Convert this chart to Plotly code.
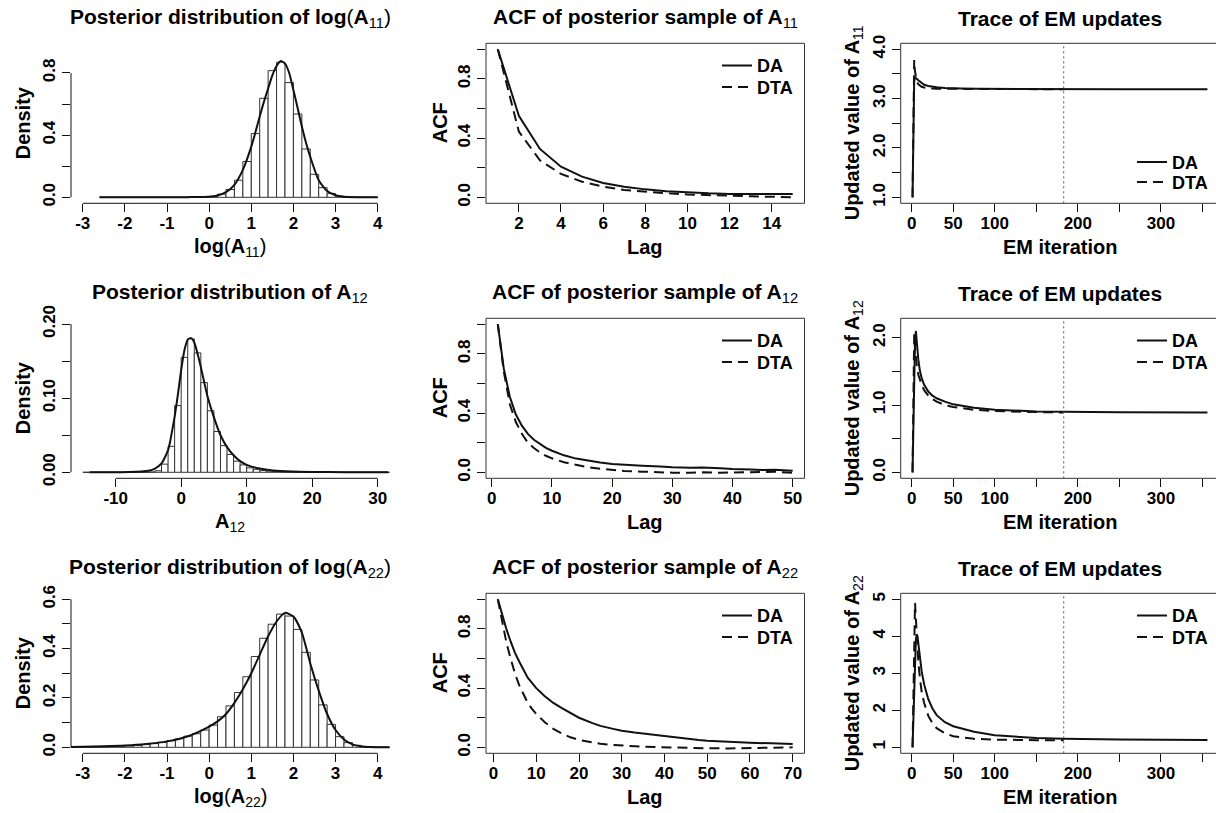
import plotly.graph_objects as go

W, H = 1216, 813
FONT = "Liberation Sans, Arial, Helvetica, sans-serif"

# ---------------- data ----------------
# Histogram of log(A11): bin left edges (width 0.2) and densities
h1_left = [-2.6, -2.4, -2.2, -2.0, -1.8, -1.6, -1.4, -1.2, -1.0, -0.8, -0.6, -0.4, -0.2,
           0.0, 0.2, 0.4, 0.6, 0.8, 1.0, 1.2, 1.4, 1.6, 1.8, 2.0, 2.2, 2.4, 2.6, 2.8,
           3.0, 3.2, 3.4, 3.6, 3.8]
h1_dens = [0, 0, 0, 0, 0, 0, 0, 0, 0, 0, 0, 0.001, 0.002,
           0.006, 0.02, 0.05, 0.11, 0.23, 0.41, 0.637, 0.815, 0.869, 0.738, 0.536, 0.311, 0.148,
           0.062, 0.025, 0.007, 0.002, 0.001, 0, 0]
d1_x = [-2.6, -1.0, -0.5, 0.0, 0.2, 0.4, 0.6, 0.8, 1.0, 1.1, 1.2, 1.3, 1.4, 1.5, 1.6, 1.7,
        1.8, 1.9, 2.0, 2.1, 2.2, 2.3, 2.4, 2.6, 2.8, 3.0, 3.2, 3.5, 4.0]
d1_y = [0, 0, 0.001, 0.004, 0.012, 0.033, 0.08, 0.176, 0.326, 0.42, 0.52, 0.615, 0.70, 0.785,
        0.845, 0.877, 0.86, 0.80, 0.69, 0.575, 0.455, 0.35, 0.26, 0.11, 0.04, 0.013, 0.004,
        0.001, 0]

# Histogram of A12: bin left edges (width 1) and densities
h2_left = list(range(-15, 32))
h2_dens = [0, 0, 0, 0, 0, 0, 0, 0, 0, 0, 0.0005, 0.002, 0.011, 0.035, 0.09,
           0.155, 0.18, 0.161, 0.121, 0.083, 0.055, 0.036, 0.024, 0.015, 0.010, 0.006,
           0.004, 0.0025, 0.0015, 0.001, 0.0006, 0.0004, 0.0002, 0.0001, 0, 0, 0, 0, 0,
           0, 0, 0, 0, 0, 0, 0, 0]
d2_x = [-14, -8, -5, -4, -3, -2, -1, -0.5, 0, 0.5, 1, 1.5, 2, 2.5, 3, 3.5, 4, 5, 6, 7, 8, 9,
        10, 12, 14, 17, 20, 25, 31.6]
d2_y = [0, 0.0003, 0.002, 0.005, 0.012, 0.03, 0.075, 0.105, 0.138, 0.165, 0.179, 0.181, 0.175,
        0.16, 0.142, 0.122, 0.103, 0.074, 0.05, 0.034, 0.023, 0.015, 0.010, 0.005, 0.0025,
        0.001, 0.0005, 0.0001, 0]

# Histogram of log(A22): bin left edges (width 0.2) and densities
h3_left = [-3.4, -3.2, -3.0, -2.8, -2.6, -2.4, -2.2, -2.0, -1.8, -1.6, -1.4, -1.2, -1.0, -0.8,
           -0.6, -0.4, -0.2, 0.0, 0.2, 0.4, 0.6, 0.8, 1.0, 1.2, 1.4, 1.6, 1.8, 2.0, 2.2, 2.4,
           2.6, 2.8, 3.0, 3.2, 3.4, 3.6, 3.8, 4.0, 4.2]
h3_dens = [0.0005, 0.0007, 0.001, 0.0015, 0.002, 0.003, 0.004, 0.006, 0.008, 0.011, 0.015,
           0.02, 0.027, 0.035, 0.045, 0.055, 0.07, 0.09, 0.124, 0.168, 0.222, 0.286, 0.368,
           0.442, 0.499, 0.54, 0.532, 0.478, 0.385, 0.273, 0.172, 0.093, 0.043, 0.019, 0.008,
           0.003, 0.001, 0.0003, 0.0001]
d3_x = [-3.3, -3.0, -2.5, -2.0, -1.5, -1.0, -0.5, 0.0, 0.2, 0.4, 0.6, 0.8, 1.0, 1.2, 1.4, 1.6,
        1.8, 2.0, 2.2, 2.4, 2.6, 2.8, 3.0, 3.2, 3.4, 3.6, 3.8, 4.3]
d3_y = [0.001, 0.002, 0.004, 0.007, 0.013, 0.024, 0.045, 0.084, 0.105, 0.135, 0.18, 0.235,
        0.30, 0.375, 0.45, 0.51, 0.545, 0.53, 0.465, 0.34, 0.23, 0.135, 0.07, 0.032, 0.012,
        0.004, 0.001, 0]

# ACF of posterior samples
acf1_lag = list(range(1, 16))
acf1_da = [1.0, 0.55, 0.327, 0.207, 0.14, 0.097, 0.072, 0.054, 0.042, 0.033, 0.027, 0.023,
           0.022, 0.022, 0.022]
acf1_dta = [1.0, 0.444, 0.25, 0.158, 0.106, 0.072, 0.05, 0.038, 0.028, 0.02, 0.014, 0.01,
            0.007, 0.004, 0.0]

acf2_lag = [1, 2, 3, 4, 5, 6, 7, 8, 9, 10, 12, 14, 16, 18, 20, 22, 25, 28, 30, 33, 35, 38,
            40, 43, 45, 47, 50]
acf2_da = [1.0, 0.70, 0.51, 0.39, 0.315, 0.26, 0.22, 0.19, 0.165, 0.146, 0.115, 0.093, 0.077,
           0.066, 0.056, 0.05, 0.045, 0.04, 0.034, 0.031, 0.033, 0.028, 0.022, 0.02, 0.016,
           0.018, 0.011]
acf2_dta = [1.0, 0.68, 0.46, 0.34, 0.26, 0.2, 0.165, 0.135, 0.112, 0.095, 0.068, 0.05, 0.035,
            0.025, 0.016, 0.01, 0.005, 0.0, -0.002, -0.003, 0.0, -0.002, 0.0, 0.003, 0.005,
            0.004, -0.002]

acf3_lag = [1, 2, 3, 4, 5, 6, 7, 8, 9, 10, 12, 14, 16, 18, 20, 23, 25, 28, 30, 33, 35, 38,
            40, 43, 45, 48, 50, 55, 60, 65, 70]
acf3_da = [1.0, 0.89, 0.80, 0.715, 0.64, 0.58, 0.52, 0.47, 0.435, 0.40, 0.345, 0.30, 0.265,
           0.23, 0.2, 0.165, 0.145, 0.125, 0.112, 0.1, 0.092, 0.083, 0.077, 0.066, 0.058,
           0.05, 0.045, 0.036, 0.031, 0.027, 0.022]
acf3_dta = [1.0, 0.85, 0.71, 0.6, 0.5, 0.42, 0.355, 0.3, 0.26, 0.225, 0.17, 0.125, 0.093,
            0.068, 0.05, 0.032, 0.025, 0.016, 0.012, 0.008, 0.005, 0.002, 0.0, -0.002,
            -0.004, -0.005, -0.006, -0.007, -0.006, -0.002, 0.0]

# Traces of EM updates
DTA_STOP = 183
em11_da_it = [1, 2, 3, 4, 5, 6, 8, 10, 12, 15, 20, 25, 30, 40, 50, 60, 80, 100, 150, 183, 250, 356]
em11_da = [1.0, 2.3, 3.35, 3.43, 3.42, 3.40, 3.37, 3.34, 3.31, 3.28, 3.255, 3.24, 3.23, 3.215,
           3.207, 3.203, 3.198, 3.196, 3.194, 3.193, 3.192, 3.192]
em11_dta_it = [1, 2, 3, 4, 5, 6, 8, 10, 12, 15, 20, 25, 30, 40, 50, 60, 80, 100, 150, 183]
em11_dta = [1.0, 3.5, 3.78, 3.55, 3.42, 3.35, 3.29, 3.26, 3.24, 3.225, 3.21, 3.203, 3.2,
            3.197, 3.195, 3.194, 3.193, 3.193, 3.192, 3.192]

em12_da_it = [1, 2, 3, 4, 5, 6, 7, 8, 10, 12, 15, 20, 25, 30, 40, 50, 75, 100, 150, 183, 250, 356]
em12_da = [0.0, 0.8, 1.5, 1.95, 2.1, 1.95, 1.8, 1.67, 1.5, 1.4, 1.3, 1.2, 1.14, 1.1, 1.05,
           1.01, 0.96, 0.93, 0.905, 0.898, 0.892, 0.89]
em12_dta_it = [1, 2, 3, 4, 5, 6, 8, 10, 12, 15, 20, 25, 30, 40, 50, 75, 100, 150, 183]
em12_dta = [0.0, 1.3, 2.05, 1.85, 1.7, 1.6, 1.45, 1.36, 1.3, 1.22, 1.14, 1.09, 1.05, 1.0,
            0.97, 0.93, 0.91, 0.895, 0.89]

em22_da_it = [1, 2, 3, 4, 5, 6, 7, 8, 10, 12, 15, 20, 25, 30, 40, 50, 75, 100, 150, 183, 250, 356]
em22_da = [1.0, 1.8, 2.8, 3.5, 3.9, 4.05, 4.0, 3.8, 3.4, 3.05, 2.7, 2.3, 2.05, 1.87, 1.68,
           1.57, 1.42, 1.33, 1.25, 1.23, 1.21, 1.2]
em22_dta_it = [1, 2, 3, 4, 5, 6, 7, 8, 10, 12, 15, 20, 25, 30, 40, 50, 75, 100, 150, 183]
em22_dta = [1.0, 2.5, 4.2, 4.9, 4.5, 4.0, 3.6, 3.3, 2.85, 2.5, 2.2, 1.85, 1.65, 1.52, 1.38,
            1.3, 1.23, 1.21, 1.195, 1.19]

# tick values: labelled (major) and unlabelled (minor) ticks
hist_x_ticks = [-3, -2, -1, 0, 1, 2, 3, 4]
a12_x_ticks = [-10, 0, 10, 20, 30]
acf_y_major = [0.0, 0.4, 0.8]
acf_y_text = ["0.0", "0.4", "0.8"]
acf_y_minor = [0.2, 0.6, 1.0]
em_x_major = [0, 50, 100, 200, 300]
em_x_minor = [150, 250, 350]


# ---------------- helpers ----------------
def logA(sub):
    return ('log<span style="font-weight:normal">(</span>A<sub><span style="font-weight:normal">'
            + sub + '</span></sub><span style="font-weight:normal">)</span>')


def Asub(sub):
    return 'A<sub><span style="font-weight:normal">' + sub + '</span></sub>'


COL_X = [(71.0, 389.5), (486.0, 804.5), (900.7, 1216.0)]
COL3_RIGHT = 1219.2
ROW_Y = [(43.3, 203.3), (318.3, 478.3), (593.3, 753.3)]
YTITLE_X = [23, 440, 853]
LEG_X = {1: 717, 2: 1132}

TICKFONT = dict(family=FONT, size=17, color="black", weight="bold")
TITLEFONT = dict(family=FONT, size=21, color="black", weight="bold")
LABFONT = dict(family=FONT, size=20, color="black", weight="bold")
LEGFONT = dict(family=FONT, size=18, color="black", weight="bold")
BLACK = "#111111"
DASH = "10px,6px"

panels = [
    # row 0
    dict(kind="hist", left=h1_left, dens=h1_dens, width=0.2, dx=d1_x, dy=d1_y,
         xr=[-3.278, 4.28], yr=[-0.0386, 0.991],
         xt=hist_x_ticks, xtt=[str(v) for v in hist_x_ticks], xm=[],
         yt=[0, 0.4, 0.8], ytt=["0.0", "0.4", "0.8"], ym=[0.2, 0.6],
         title="Posterior distribution of " + logA("11"), xlab=logA("11"), ylab="Density"),
    dict(kind="acf", lag=acf1_lag, da=acf1_da, dta=acf1_dta, xr=[0.44, 15.56], yr=[-0.04, 1.04],
         xt=[2, 4, 6, 8, 10, 12, 14], xtt=["2", "4", "6", "8", "10", "12", "14"], xm=[],
         yt=acf_y_major, ytt=acf_y_text, ym=acf_y_minor,
         title="ACF of posterior sample of " + Asub("11"), xlab="Lag", ylab="ACF", leg_top=True),
    dict(kind="em", da_it=em11_da_it, da=em11_da, dta_it=em11_dta_it, dta=em11_dta,
         xr=[-13.24, 366.3], yr=[0.88, 4.12],
         xt=em_x_major, xtt=[str(v) for v in em_x_major], xm=em_x_minor,
         yt=[1.0, 2.0, 3.0, 4.0], ytt=["1.0", "2.0", "3.0", "4.0"], ym=[1.5, 2.5, 3.5],
         title="Trace of EM updates", xlab="EM iteration",
         ylab="Updated value of " + Asub("11"), leg_top=False),
    # row 1
    dict(kind="hist", left=h2_left, dens=h2_dens, width=1.0, dx=d2_x, dy=d2_y,
         xr=[-16.82, 31.8], yr=[-0.0081, 0.2077],
         xt=a12_x_ticks, xtt=[str(v) for v in a12_x_ticks], xm=[],
         yt=[0, 0.10, 0.20], ytt=["0.00", "0.10", "0.20"], ym=[0.05, 0.15],
         title="Posterior distribution of " + Asub("12"), xlab=Asub("12"), ylab="Density"),
    dict(kind="acf", lag=acf2_lag, da=acf2_da, dta=acf2_dta, xr=[-0.96, 51.96], yr=[-0.04, 1.04],
         xt=[0, 10, 20, 30, 40, 50], xtt=["0", "10", "20", "30", "40", "50"], xm=[],
         yt=acf_y_major, ytt=acf_y_text, ym=acf_y_minor,
         title="ACF of posterior sample of " + Asub("12"), xlab="Lag", ylab="ACF", leg_top=True),
    dict(kind="em", da_it=em12_da_it, da=em12_da, dta_it=em12_dta_it, dta=em12_dta,
         xr=[-13.24, 366.3], yr=[-0.088, 2.288],
         xt=em_x_major, xtt=[str(v) for v in em_x_major], xm=em_x_minor,
         yt=[0.0, 1.0, 2.0], ytt=["0.0", "1.0", "2.0"], ym=[0.5, 1.5],
         title="Trace of EM updates", xlab="EM iteration",
         ylab="Updated value of " + Asub("12"), leg_top=True),
    # row 2
    dict(kind="hist", left=h3_left, dens=h3_dens, width=0.2, dx=d3_x, dy=d3_y,
         xr=[-3.278, 4.28], yr=[-0.0243, 0.6243],
         xt=hist_x_ticks, xtt=[str(v) for v in hist_x_ticks], xm=[],
         yt=[0, 0.2, 0.4, 0.6], ytt=["0.0", "0.2", "0.4", "0.6"], ym=[0.1, 0.3, 0.5],
         title="Posterior distribution of " + logA("22"), xlab=logA("22"), ylab="Density"),
    dict(kind="acf", lag=acf3_lag, da=acf3_da, dta=acf3_dta, xr=[-1.76, 72.76], yr=[-0.04, 1.04],
         xt=[0, 10, 20, 30, 40, 50, 60, 70],
         xtt=["0", "10", "20", "30", "40", "50", "60", "70"], xm=[],
         yt=acf_y_major, ytt=acf_y_text, ym=acf_y_minor,
         title="ACF of posterior sample of " + Asub("22"), xlab="Lag", ylab="ACF", leg_top=True),
    dict(kind="em", da_it=em22_da_it, da=em22_da, dta_it=em22_dta_it, dta=em22_dta,
         xr=[-13.24, 366.3], yr=[0.84, 5.16],
         xt=em_x_major, xtt=[str(v) for v in em_x_major], xm=em_x_minor,
         yt=[1, 2, 3, 4, 5], ytt=["1", "2", "3", "4", "5"], ym=[],
         title="Trace of EM updates", xlab="EM iteration",
         ylab="Updated value of " + Asub("22"), leg_top=True),
]


def minor_cfg(vals):
    if not vals:
        return dict(ticks="")
    return dict(tickmode="array", tickvals=vals, ticks="outside", ticklen=8, tickwidth=1,
                tickcolor=BLACK, showgrid=False)


fig = go.Figure()
layout = dict(width=W, height=H, margin=dict(l=0, r=0, t=0, b=0, autoexpand=False),
              paper_bgcolor="white", plot_bgcolor="white", showlegend=True)
shapes, annotations = [], []
leg_count = 0


def new_legend(x_px, y_px):
    global leg_count
    leg_count += 1
    name = "legend" if leg_count == 1 else "legend" + str(leg_count)
    layout[name] = dict(x=x_px / W, y=1 - y_px / H, xanchor="left", yanchor="middle",
                        xref="paper", yref="paper", bgcolor="rgba(0,0,0,0)",
                        borderwidth=0, font=LEGFONT, itemwidth=30, tracegroupgap=0)
    return name


for idx, p in enumerate(panels):
    r, c = divmod(idx, 3)
    s = "" if idx == 0 else str(idx + 1)
    xa, ya = "x" + s, "y" + s
    x0, x1 = COL_X[c]
    y0, y1 = ROW_Y[r]
    layout["xaxis" + s] = dict(
        domain=[x0 / W, x1 / W], anchor=ya, range=p["xr"], tickmode="array",
        tickvals=p["xt"], ticktext=p["xtt"], ticks="outside", ticklen=8, tickwidth=1,
        tickcolor=BLACK, showline=False, showgrid=False, zeroline=False,
        ticklabelstandoff=-4, tickfont=TICKFONT, fixedrange=True, minor=minor_cfg(p["xm"]))
    layout["yaxis" + s] = dict(
        domain=[1 - y1 / H, 1 - y0 / H], anchor=xa, range=p["yr"], tickmode="array",
        tickvals=p["yt"], ticktext=p["ytt"], ticks="outside", ticklen=8, tickwidth=1,
        tickcolor=BLACK, showline=False, showgrid=False, zeroline=False, tickangle=-90,
        tickfont=TICKFONT, fixedrange=True, minor=minor_cfg(p["ym"]))

    if p["kind"] == "hist":
        fig.add_trace(go.Bar(x=p["left"], y=p["dens"], width=p["width"], offset=0,
                             marker=dict(color="white", line=dict(color="#333333", width=1)),
                             xaxis=xa, yaxis=ya, showlegend=False, hoverinfo="skip"))
        fig.add_trace(go.Scatter(x=p["dx"], y=p["dy"], mode="lines",
                                 line=dict(color=BLACK, width=2, shape="spline", smoothing=0.6),
                                 xaxis=xa, yaxis=ya, showlegend=False))
        allx = sorted(p["xt"] + p["xm"])
        ally = sorted(p["yt"] + p["ym"])
        # R-style axis lines spanning first to last tick
        shapes.append(dict(type="line", xref=xa, yref=ya + " domain", x0=allx[0],
                           x1=allx[-1], y0=0, y1=0, line=dict(color=BLACK, width=1)))
        shapes.append(dict(type="line", xref=xa + " domain", yref=ya, x0=0, x1=0,
                           y0=ally[0], y1=ally[-1], line=dict(color=BLACK, width=1)))
    else:
        if p["kind"] == "acf":
            xs_da, ys_da, xs_dta, ys_dta = p["lag"], p["da"], p["lag"], p["dta"]
        else:
            xs_da, ys_da, xs_dta, ys_dta = p["da_it"], p["da"], p["dta_it"], p["dta"]
        if p["leg_top"]:
            ly_da, ly_dta = y0 + 22.4, y0 + 44.0
        else:
            ly_da, ly_dta = y1 - 41.0, y1 - 21.0
        lg_da = new_legend(LEG_X[c], ly_da)
        lg_dta = new_legend(LEG_X[c], ly_dta)
        fig.add_trace(go.Scatter(x=xs_da, y=ys_da, mode="lines", name="DA",
                                 line=dict(color=BLACK, width=2), xaxis=xa, yaxis=ya,
                                 legend=lg_da))
        fig.add_trace(go.Scatter(x=xs_dta, y=ys_dta, mode="lines", name="DTA",
                                 line=dict(color=BLACK, width=2, dash=DASH), xaxis=xa, yaxis=ya,
                                 legend=lg_dta))
        right = COL3_RIGHT if c == 2 else x1
        shapes.append(dict(type="rect", xref="paper", yref="paper", x0=x0 / W, x1=right / W,
                           y0=1 - y1 / H, y1=1 - y0 / H, line=dict(color="#333333", width=1),
                           fillcolor="rgba(0,0,0,0)"))
        if p["kind"] == "em":
            shapes.append(dict(type="line", xref=xa, yref=ya + " domain", x0=DTA_STOP,
                               x1=DTA_STOP, y0=0, y1=1,
                               line=dict(color="#555555", width=1, dash="2px,3px")))

    cx = (x0 + (COL3_RIGHT if c == 2 else x1)) / 2
    annotations.append(dict(text=p["title"], x=cx / W, y=1 - (y0 - 25) / H, xref="paper",
                            yref="paper", showarrow=False, xanchor="center", yanchor="middle",
                            font=TITLEFONT))
    annotations.append(dict(text=p["xlab"], x=cx / W, y=1 - (y1 + 44) / H, xref="paper",
                            yref="paper", showarrow=False, xanchor="center", yanchor="middle",
                            font=LABFONT))
    annotations.append(dict(text=p["ylab"], x=YTITLE_X[c] / W, y=1 - ((y0 + y1) / 2) / H,
                            xref="paper", yref="paper", showarrow=False, xanchor="center",
                            yanchor="middle", textangle=-90, font=LABFONT))

layout["shapes"] = shapes
layout["annotations"] = annotations
fig.update_layout(**layout)
fig.write_html("out.html", config={"displayModeBar": False},
               post_script="document.body.style.margin='0';document.body.style.overflow='hidden';")
